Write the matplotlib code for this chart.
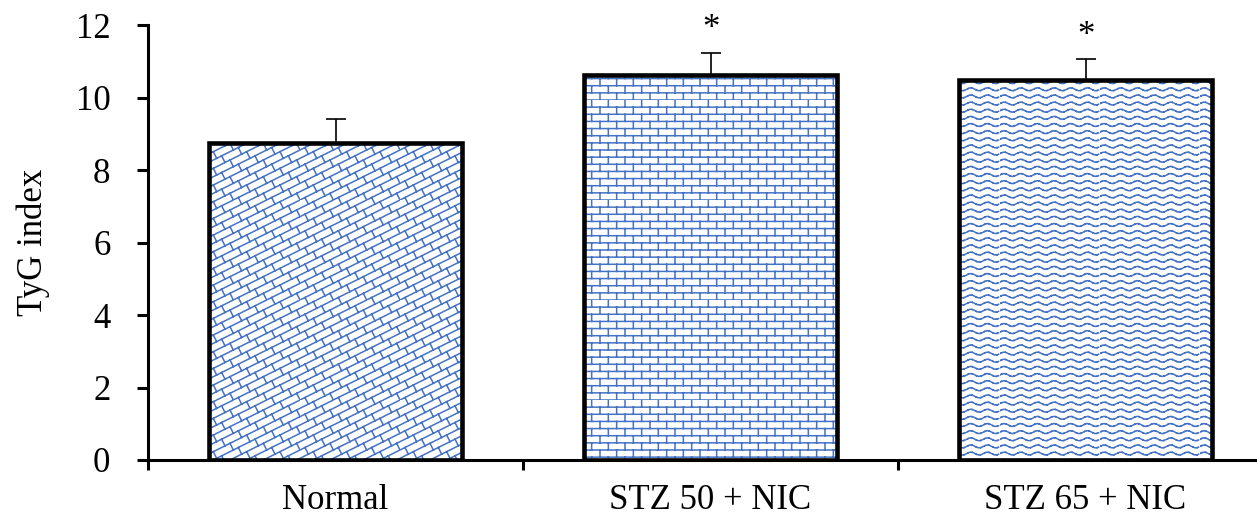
import numpy as np
import matplotlib
matplotlib.use("Agg")
import matplotlib.pyplot as plt
from matplotlib import hatch as mhatch
from matplotlib.path import Path

groups = ["Normal", "STZ 50 + NIC", "STZ 65 + NIC"]
tyg = [8.75, 10.62, 10.47]
tyg_err = [0.65, 0.62, 0.58]
signif = ["", "*", "*"]


# ---- custom hatch patterns (brick / diagonal brick / wave) ----
def clip_seg(x0, y0, x1, y1):
    # Liang-Barsky clipping to the unit square
    dx, dy = x1 - x0, y1 - y0
    t0, t1 = 0.0, 1.0
    for p, q in ((-dx, x0), (dx, 1 - x0), (-dy, y0), (dy, 1 - y0)):
        if p == 0:
            if q < 0:
                return None
        else:
            r = q / p
            if p < 0:
                t0 = max(t0, r)
            else:
                t1 = min(t1, r)
    if t0 >= t1:
        return None
    return (x0 + t0 * dx, y0 + t0 * dy, x0 + t1 * dx, y0 + t1 * dy)


def brick_segs(n=14, m=6):
    segs = []
    for i in range(n):
        y = i / n
        segs.append((0, y, 1, y))
        off = 0.5 * (i % 2)
        for j in range(-1, m + 1):
            x = (j + off) / m
            segs.append((x, y, x, (i + 1) / n))
    return segs


def diag_brick_segs(n=12, m=6):
    segs = []
    t = 0.4 / n
    for k in range(-2 * n, 2 * n):
        segs.append((-1, -0.5 + k / n, 2, 1.0 + k / n))
        for j in range(-2 * m, 3 * m):
            x0 = (j + 0.5 * (k % 2)) / m
            y0 = x0 / 2 + k / n
            segs.append((x0, y0, x0 - t, y0 + 2 * t))
    return segs


def wave_segs(n=14, m=6, amp=0.014, steps=12):
    segs = []
    xs = np.linspace(0, 1, m * steps + 1)
    for i in range(n):
        y = i / n + 0.5 / n + amp * np.sin(2 * np.pi * m * xs)
        for a in range(len(xs) - 1):
            if a % 3 == 2:
                continue
            segs.append((xs[a], y[a], xs[a + 1], y[a + 1]))
    return segs


def make_hatch(char, segs):
    clipped = [c for c in (clip_seg(*s) for s in segs) if c is not None]

    class _Hatch(mhatch.HatchPatternBase):
        def __init__(self, hatch, density):
            self.num_vertices = 2 * len(clipped) if char in hatch else 0

        def set_vertices_and_codes(self, vertices, codes):
            for idx, (a, b, c, d) in enumerate(clipped):
                vertices[2 * idx] = (a, b)
                vertices[2 * idx + 1] = (c, d)
                codes[2 * idx] = Path.MOVETO
                codes[2 * idx + 1] = Path.LINETO

    mhatch._hatch_types.append(_Hatch)


make_hatch("d", diag_brick_segs())
make_hatch("b", brick_segs())
make_hatch("w", wave_segs())
hatches = ["d", "b", "w"]

plt.rcParams["font.family"] = ["Liberation Serif", "DejaVu Serif"]
plt.rcParams["hatch.linewidth"] = 1.1
fs = 25

fig = plt.figure(figsize=(12.57, 5.15), dpi=100)
ax = fig.add_axes([148 / 1257, 1 - 460 / 515, 1125 / 1257, 435 / 515])

x = np.arange(len(groups))
blue = "#4472C4"
for i in range(len(groups)):
    ax.bar(x[i], tyg[i], width=0.675, color="white", edgecolor=blue,
           hatch=hatches[i], linewidth=0, zorder=2)
ax.bar(x, tyg, width=0.675, color="none", edgecolor="black", linewidth=3.3,
       zorder=3)
ax.errorbar(x, tyg, yerr=[np.zeros(len(tyg)), tyg_err], fmt="none",
            ecolor="black", elinewidth=1.2, capsize=7, capthick=1.2, zorder=1)

for i, s in enumerate(signif):
    if s:
        ax.text(x[i], tyg[i] + tyg_err[i] + 0.64, s, ha="center", va="center",
                fontsize=fs)

# group names below the axis (baseline placed like the original)
for i, g in enumerate(groups):
    ax.text(x[i], -0.1115, g, ha="center", va="baseline", fontsize=fs,
            transform=ax.get_xaxis_transform())

ax.set_xlim(-0.5, 2.5)
ax.set_ylim(0, 12)
ax.set_yticks(range(0, 13, 2))
ax.set_xticks([-0.5, 0.5, 1.5, 2.5])
ax.set_xticklabels([])
ax.tick_params(axis="x", length=7, width=2.2, direction="out")
ax.tick_params(axis="y", length=8, width=2.2, direction="out", pad=19,
               labelsize=fs)

for side in ["top", "right"]:
    ax.spines[side].set_visible(False)
for side in ["left", "bottom"]:
    ax.spines[side].set_linewidth(2.2)

ax.set_ylabel("TyG index", fontsize=fs, va="center")
ax.yaxis.set_label_coords(-0.102, 0.5)

fig.savefig("out.png", dpi=100)
